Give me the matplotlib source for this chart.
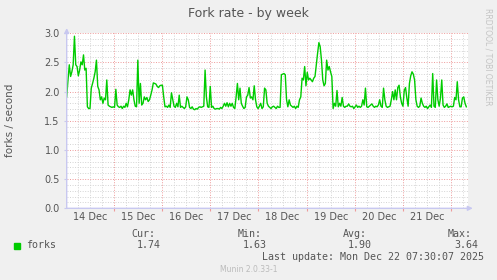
import numpy as np
import pandas as pd
import matplotlib
matplotlib.use("Agg")
import matplotlib.pyplot as plt
import matplotlib.dates as mdates

# fork rate samples (forks / second), first and second half of the week
forks_a = [1.91, 2.20, 2.46, 2.26, 2.34, 2.46, 2.95, 2.46, 2.43, 2.27, 2.37, 2.51, 2.46, 2.63,
           2.37, 2.40, 1.74, 1.71, 1.71, 2.06, 2.14, 2.23, 2.34, 2.54, 2.09, 2.03, 1.86, 1.91,
           1.80, 1.89, 1.86, 2.20, 1.77, 1.75, 1.74, 1.73, 1.74, 1.73, 2.04, 1.77, 1.74, 1.73,
           1.75, 1.71, 1.75, 1.73, 1.80, 1.74, 1.86, 2.03, 1.94, 2.03, 1.86, 1.75, 1.74, 2.54,
           1.80, 2.14, 1.77, 1.80, 1.91, 1.86, 1.90, 1.83, 1.86, 1.94, 2.03, 2.15, 2.14, 2.13,
           2.09, 2.07, 2.10, 2.11, 2.11, 1.91, 1.74, 1.75, 1.73, 1.77, 1.73, 1.98, 1.86, 1.75,
           1.73, 1.80, 1.74, 1.94, 1.73, 1.75, 1.73, 1.71, 1.74, 1.91, 1.86, 1.73, 1.71, 1.74,
           1.70, 1.69, 1.71, 1.70, 1.73, 1.74, 1.73, 1.74, 1.75, 2.37, 1.91, 1.74, 1.73, 2.09,
           1.73, 1.75, 1.71, 1.70, 1.71, 1.71, 1.70, 1.73, 1.71, 1.75, 1.80, 1.75, 1.81, 1.74,
           1.80, 1.75, 1.80, 1.73, 1.71, 1.91, 2.14, 1.86, 2.06, 1.80, 1.75, 1.71, 1.73, 1.91,
           1.94, 2.07, 1.89]
forks_b = [1.91, 1.86, 2.10, 1.86, 1.74, 1.71, 1.75, 1.80, 1.71, 1.74, 2.06, 2.03, 1.80, 1.75,
           1.73, 1.71, 1.74, 1.75, 1.73, 1.71, 1.75, 1.73, 1.73, 2.29, 2.30, 2.31, 2.29, 1.86,
           1.74, 1.86, 1.77, 1.75, 1.73, 1.75, 1.71, 1.75, 1.73, 1.86, 1.91, 2.23, 2.20, 2.43,
           2.10, 2.33, 2.20, 2.23, 2.20, 2.17, 2.23, 2.26, 2.46, 2.66, 2.84, 2.77, 2.54, 2.20,
           2.10, 2.14, 2.54, 2.37, 2.43, 2.34, 2.26, 1.71, 1.80, 1.75, 2.02, 1.74, 1.80, 1.75,
           1.90, 1.75, 1.73, 1.75, 1.75, 1.79, 1.75, 1.74, 1.75, 1.71, 1.74, 1.77, 1.73, 1.75,
           1.73, 1.75, 1.86, 1.77, 2.06, 1.74, 1.73, 1.75, 1.77, 1.79, 1.75, 1.73, 1.75, 1.74,
           1.77, 1.86, 1.75, 1.73, 2.06, 1.86, 1.75, 1.73, 1.74, 1.75, 1.86, 2.00, 1.86, 2.03,
           1.86, 2.07, 2.11, 1.91, 1.80, 1.75, 2.02, 2.07, 1.89, 1.75, 2.14, 2.27, 2.34, 2.30,
           2.20, 1.86, 1.75, 1.73, 1.75, 1.89, 1.80, 1.75, 1.73, 1.75, 1.71, 1.74, 1.77, 1.73,
           2.31, 1.75, 1.73, 2.20, 1.86, 1.75, 1.89, 2.20, 1.77, 1.73, 1.75, 1.79, 1.73, 1.74,
           1.75, 1.74, 1.75, 1.90, 1.86, 2.17, 1.86, 1.74, 1.74, 1.89, 1.91, 1.80, 1.74]

day_labels = ["14 Dec", "15 Dec", "16 Dec", "17 Dec", "18 Dec", "19 Dec", "20 Dec", "21 Dec"]
stat_names = ["Cur:", "Min:", "Avg:", "Max:"]
stat_values = ["1.74", "1.63", "1.90", "3.64"]

forks = forks_a + forks_b
times = pd.date_range("2025-12-14 00:30", "2025-12-22 07:30", periods=len(forks))

W, H = 497, 280
fig = plt.figure(figsize=(W / 100, H / 100), dpi=100, facecolor="#F0F0F0")

def fx(x):
    return x / W

def fy(y):
    return 1 - y / H

ax = fig.add_axes([fx(66.7), fy(208.3), (468 - 66.7) / W, 175 / H])
ax.set_facecolor("white")

ax.plot(times, forks, color="#00CC00", lw=1.0, zorder=3)

t0 = pd.Timestamp("2025-12-14 00:30")
t1 = pd.Timestamp("2025-12-22 08:20")
ax.set_xlim(t0, t1)
ax.set_ylim(0, 3.0)

# grid like rrdtool: grey minor, red major, dotted
ax.xaxis.set_major_locator(mdates.DayLocator())
ax.xaxis.set_minor_locator(mdates.HourLocator(byhour=[0, 6, 12, 18]))
ax.xaxis.set_major_formatter(plt.NullFormatter())
ax.yaxis.set_major_locator(plt.MultipleLocator(0.5))
ax.yaxis.set_minor_locator(plt.MultipleLocator(0.1))
ax.yaxis.set_major_formatter(plt.FormatStrFormatter("%.1f"))

ax.grid(which="minor", color="#D4D4D4", lw=0.7, ls=(0, (1, 1.6)), zorder=1)
ax.grid(which="major", color="#EE9A9A", lw=0.7, ls=(0, (1, 1.6)), zorder=2)

ax.tick_params(axis="x", which="major", length=2.5, color="#EE9A9A", pad=1)
ax.tick_params(axis="x", which="minor", length=0)
ax.tick_params(axis="y", which="major", length=2, color="#C8C8EE", labelsize=7,
               labelcolor="#555555", pad=3)
ax.tick_params(axis="y", which="minor", length=0)

for s in ax.spines.values():
    s.set_visible(False)

# axes with arrows
ax.annotate("", xy=(0, 1.03), xytext=(0, 0), xycoords="axes fraction",
            arrowprops=dict(arrowstyle="-|>", color="#C8C8F0", lw=1, mutation_scale=7,
                            shrinkA=0, shrinkB=0), annotation_clip=False)
ax.annotate("", xy=(1.012, 0), xytext=(0, 0), xycoords="axes fraction",
            arrowprops=dict(arrowstyle="-|>", color="#C8C8F0", lw=1, mutation_scale=7,
                            shrinkA=0, shrinkB=0), annotation_clip=False)

# day labels at noon
for i, lab in enumerate(day_labels):
    noon = pd.Timestamp("2025-12-14 12:00") + pd.Timedelta(days=i)
    ax.text(noon, -0.048, lab, transform=ax.get_xaxis_transform(), ha="center",
            va="center", fontsize=7, color="#555555")

fig.text(0.5, fy(13), "Fork rate - by week", ha="center", va="center",
         fontsize=9, color="#555555")
fig.text(fx(10), fy(120), "forks / second", rotation=90, ha="center", va="center",
         fontsize=7.5, color="#555555")
fig.text(fx(488), fy(57), "RRDTOOL / TOBI OETIKER", rotation=270, ha="center",
         va="center", fontsize=5.5, color="#C4C4C4")

# legend
mono = "DejaVu Sans Mono"
fig.patches.append(plt.Rectangle((fx(14), fy(248.5)), 6 / W, 6 / H, color="#00CC00",
                                 transform=fig.transFigure, figure=fig))
fig.text(fx(26.5), fy(245.5), "forks", family=mono, fontsize=7.2, color="#555555",
         va="center", ha="left")
name_x = [131.5, 237.5, 343, 448]
val_x = [137, 243, 348, 454]
for nx, vx, n, v in zip(name_x, val_x, stat_names, stat_values):
    fig.text(fx(nx), fy(234), n, family=mono, fontsize=7.2, color="#555555",
             va="center", ha="left")
    fig.text(fx(vx), fy(245.5), v, family=mono, fontsize=7.2, color="#555555",
             va="center", ha="left")
fig.text(fx(483.5), fy(257.5), "Last update: Mon Dec 22 07:30:07 2025", family=mono,
         fontsize=7.2, color="#555555", va="center", ha="right")
fig.text(0.5, fy(269.5), "Munin 2.0.33-1", fontsize=5.5, color="#BBBBBB",
         ha="center", va="center")

fig.savefig("out.png", dpi=100, facecolor=fig.get_facecolor())
